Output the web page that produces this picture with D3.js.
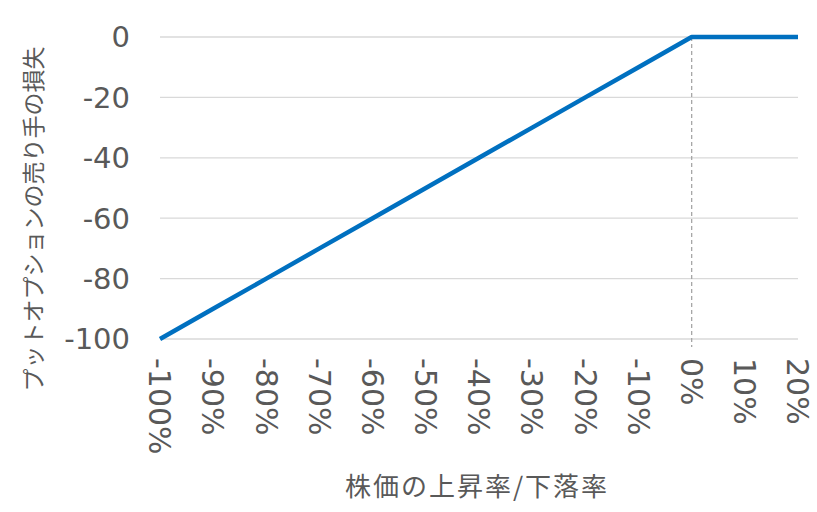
<!DOCTYPE html>
<html lang="ja">
<head>
<meta charset="UTF-8">
<title>プットオプションの売り手の損失</title>
<script src="https://d3js.org/d3.v7.min.js"></script>
<style>
  body { margin: 0; background: #fff; }
  svg { display: block; }
  .tick-label { font-family: "DejaVu Sans", Verdana, sans-serif; font-size: 29px; fill: #595959; }
  .x-tick { font-size: 30px; }
  .axis-title { font-family: "Noto Sans CJK JP", sans-serif; font-size: 23px; fill: #595959; }
</style>
</head>
<body>
<script>
  // price change of the stock (%) and seller's loss
  const changes = [-100, -90, -80, -70, -60, -50, -40, -30, -20, -10, 0, 10, 20];
  const losses  = [-100, -90, -80, -70, -60, -50, -40, -30, -20, -10, 0, 0, 0];
  const yTicks  = [0, -20, -40, -60, -80, -100];
  const xTitle  = "株価の上昇率/下落率";
  const yTitle  = "プットオプションの売り手の損失";

  const width = 817, height = 512;
  const margin = {top: 37, right: 19, bottom: 173, left: 160};

  const svg = d3.select("body").append("svg")
      .attr("width", width)
      .attr("height", height);

  const x = d3.scaleLinear()
      .domain([-100, 20])
      .range([margin.left, width - margin.right]);

  const y = d3.scaleLinear()
      .domain([-100, 0])
      .range([height - margin.bottom, margin.top]);

  // horizontal grid
  svg.append("g")
      .selectAll("line")
      .data(yTicks)
      .join("line")
      .attr("x1", x(-100))
      .attr("x2", x(20))
      .attr("y1", d => y(d))
      .attr("y2", d => y(d))
      .attr("stroke", "#d9d9d9")
      .attr("stroke-width", 1.3);

  // dashed line at 0%
  svg.append("line")
      .attr("x1", x(0)).attr("x2", x(0))
      .attr("y1", y(0)).attr("y2", y(-100) + 8)
      .attr("stroke", "#a6a6a6")
      .attr("stroke-width", 1.3)
      .attr("stroke-dasharray", "4,3");

  // y tick labels
  svg.append("g")
      .selectAll("text")
      .data(yTicks)
      .join("text")
      .attr("class", "tick-label")
      .attr("x", 130)
      .attr("y", d => y(d))
      .attr("dy", "0.36em")
      .attr("text-anchor", "end")
      .text(d => d);

  // x tick labels, rotated
  svg.append("g")
      .selectAll("text")
      .data(changes)
      .join("text")
      .attr("class", "tick-label x-tick")
      .attr("transform", d => `translate(${x(d)},${y(-100) + 19}) rotate(90)`)
      .attr("dy", "0.36em")
      .attr("text-anchor", "start")
      .text(d => d + "%");

  // the loss line
  const line = d3.line()
      .x((d, i) => x(changes[i]))
      .y(d => y(d));

  svg.append("path")
      .datum(losses)
      .attr("fill", "none")
      .attr("stroke", "#0070c0")
      .attr("stroke-width", 4.5)
      .attr("stroke-linejoin", "round")
      .attr("d", line);

  // axis titles
  svg.append("text")
      .attr("class", "axis-title")
      .attr("x", 477)
      .attr("y", 496)
      .attr("text-anchor", "middle")
      .attr("font-size", "26px")
      .attr("letter-spacing", 2)
      .style("font-size", "26px")
      .text(xTitle);

  svg.append("text")
      .attr("class", "axis-title")
      .attr("transform", `translate(42,219) rotate(-90)`)
      .attr("text-anchor", "middle")
      .text(yTitle);
</script>
</body>
</html>
